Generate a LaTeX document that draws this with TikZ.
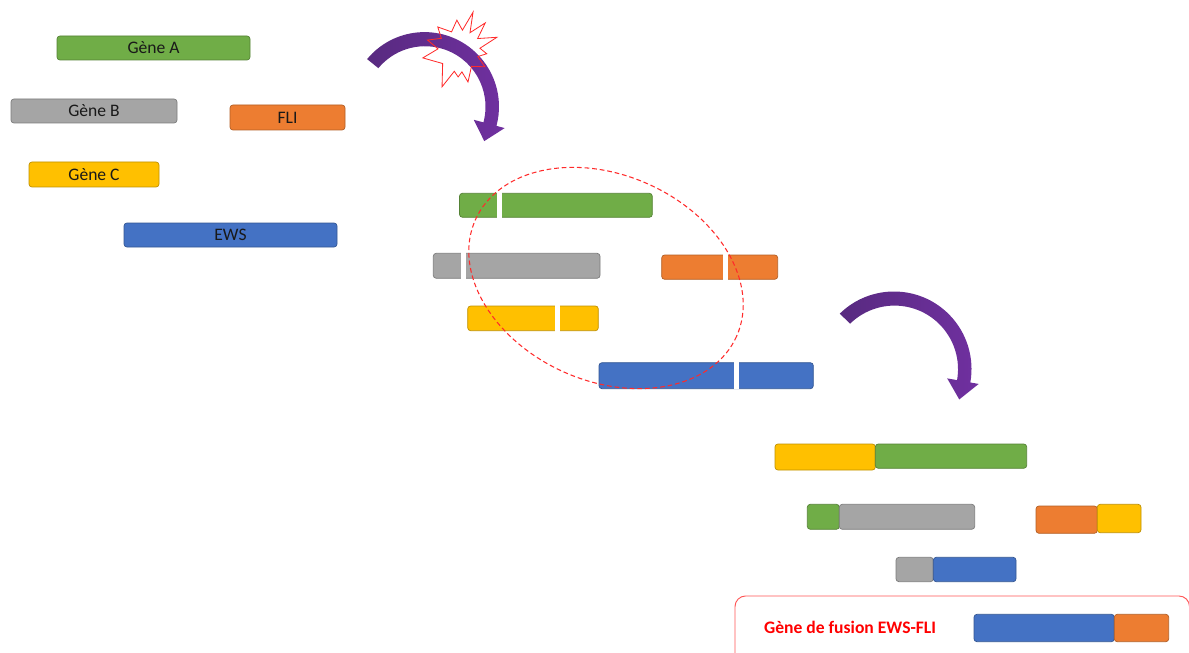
\documentclass[tikz,border=0pt]{standalone}
\usepackage{fontspec}
\setmainfont{Carlito}
\usetikzlibrary{calc}

\definecolor{vert}{HTML}{70AD47}
\definecolor{gris}{HTML}{A5A5A5}
\definecolor{orange}{HTML}{ED7D31}
\definecolor{jaune}{HTML}{FFC000}
\definecolor{bleu}{HTML}{4472C4}
\definecolor{violetF}{HTML}{582A80}
\definecolor{violetC}{HTML}{7030A0}
\definecolor{rouge}{HTML}{FF2A2A}

\tikzset{
  segment/.style={line width=0.6pt, rounded corners=2.5pt},
  label/.style={font=\fontsize{15}{18}\selectfont, text=black!90},
  eclat/.style={draw=rouge, line width=0.7pt, line join=miter},
  zone/.style={draw=rouge, line width=0.9pt, dash pattern=on 4pt off 2.5pt},
}

% un segment de gene : couleur, x1, y1, x2, y2 (en pixels)
\newcommand{\seg}[5]{\draw[segment, fill=#1, draw=#1!75!black] (#2,#3) rectangle (#4,#5);}

% fleche courbe : centre x, centre y, rayon, angle queue, angle tete
\newcommand{\fleche}[5]{%
  \shade[left color=violetF, right color=violetC]
    (#1,#2) ++(#4:{#3+7.5}) arc[start angle=#4, end angle=#5, radius={#3+7.5}]
    -- ($(#1,#2)+(#5:{#3+16})$) -- ($(#1,#2)+({#5+15}:{#3+2})$)
    -- ($(#1,#2)+(#5:{#3-16})$) -- ($(#1,#2)+(#5:{#3-6})$)
    arc[start angle=#5, end angle=#4, radius={#3-6.5}] -- cycle;}

\begin{document}
\begin{tikzpicture}[x=0.03cm, y=-0.03cm]
  \useasboundingbox (0,0) rectangle (1189,653);

  % genes de depart
  \seg{vert}{57}{36}{250}{60}
  \seg{gris}{11}{99}{177}{123}
  \seg{orange}{230}{105}{345}{130}
  \seg{jaune}{29}{162}{159}{187}
  \seg{bleu}{124}{223}{337}{247}
  \node[label] (geneA) at (153.5,48) {Gène A};
  \node[label] (geneB) at (94,111) {Gène B};
  \node[label] (fli)   at (287.5,117.5) {FLI};
  \node[label] (geneC) at (94,174.5) {Gène C};
  \node[label] (ews)   at (230.5,235) {EWS};

  % cassures
  \fleche{424.5}{106.6}{67}{219.6}{375}
  \begin{scope}[shift={(460,50)}]
    \draw[eclat] (289:40) -- (300:20) -- (313:37) -- (327:21) -- (341:39)
      -- (355:20) -- (8:27) -- (20:19) -- (34:30) -- (55:20) -- (76:33)
      -- (85:22) -- (94:27) -- (105:22) -- (116:41) -- (142:22) -- (168:38)
      -- (183:22) -- (197:34) -- (212:22) -- (226:32) -- (245:20)
      -- (264:30) -- (277:20) -- cycle;
  \end{scope}

  \seg{vert}{459.5}{193.3}{652.3}{217.3}
  \seg{gris}{433.3}{253.3}{600}{278.3}
  \seg{orange}{661.7}{255}{777.7}{279.3}
  \seg{jaune}{467.7}{306}{598.3}{330.7}
  \seg{bleu}{599}{362.7}{813.3}{388.7}
  \foreach \x/\y in {496.7/193.3, 460.7/253.3, 723.3/255, 555/306, 734.3/362.7}
    \fill[white] (\x,\y-1) rectangle ++(5,27);
  \draw[zone, rotate around={-24:(606,278)}] (606,278) ellipse [x radius=143, y radius=103];

  % translocations
  \fleche{894}{369}{70}{225.6}{370}
  \seg{jaune}{775}{444}{875.3}{470}
  \seg{vert}{875.3}{444}{1026.7}{468.3}
  \seg{vert}{807.3}{504.3}{839.3}{529.3}
  \seg{gris}{839.3}{504.3}{974.7}{529.3}
  \seg{orange}{1036}{506}{1097.3}{533.3}
  \seg{jaune}{1097.3}{504.3}{1141}{532.7}
  \seg{gris}{896}{557.3}{933.3}{581.7}
  \seg{bleu}{933.3}{557.3}{1016}{581.7}

  % gene de fusion
  \draw[draw=rouge!80, line width=0.8pt, rounded corners=9pt] (735,596) rectangle (1189.5,665);
  \node[label, text=red, font=\fontsize{15}{18}\selectfont\bfseries, anchor=west] (fusion) at (760,627.5) {Gène de fusion EWS-FLI};
  \seg{bleu}{974}{614.3}{1114.3}{641.7}
  \seg{orange}{1114.3}{614.3}{1168.7}{641.7}
\end{tikzpicture}
\end{document}
